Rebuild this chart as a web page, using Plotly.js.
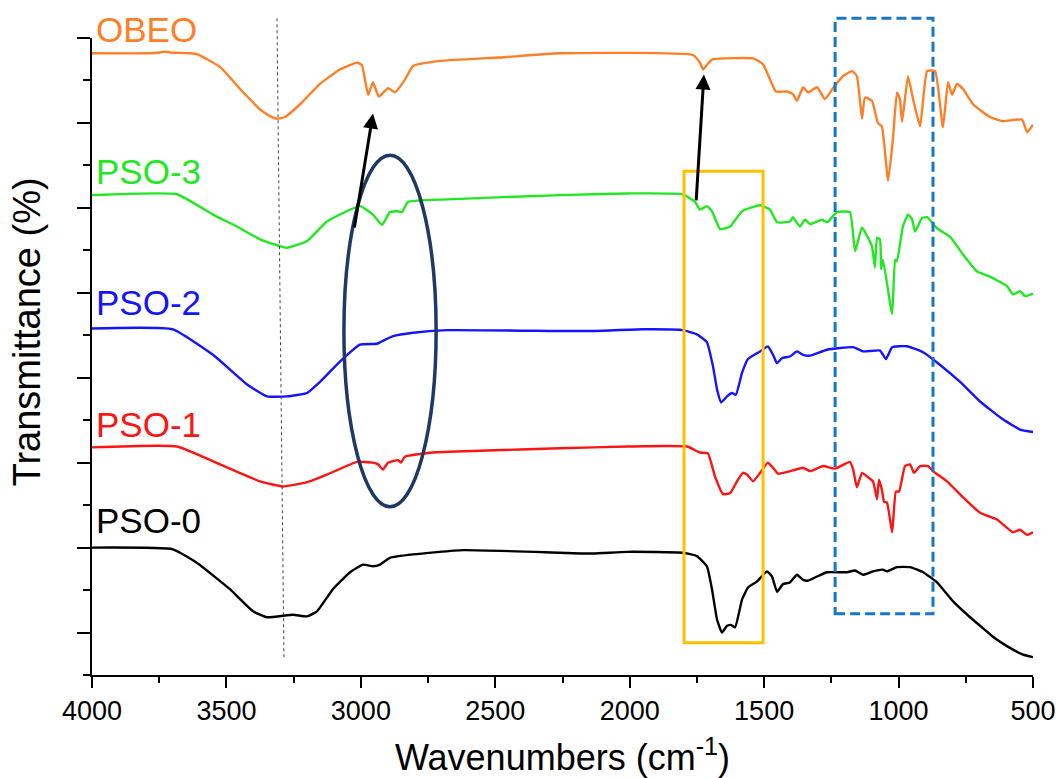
<!DOCTYPE html>
<html>
<head>
<meta charset="utf-8">
<script src="https://cdn.plot.ly/plotly-3.0.1.min.js"></script>
<style>html,body{margin:0;padding:0;background:#fff;}#chart{width:1059px;height:778px;}</style>
</head>
<body>
<div id="chart"></div>
<script>
// Wavenumbers (cm-1) and offset transmittance values (arbitrary %, stacked)
const obeoX = [4000,3784,3747,3728,3710,3636,3609,3524,3449,3375,3338,3312,3282,3226,3152,3078,3014,2996,2973,2955,2933,2899,2873,2836,2806,2706,2482,2259,1765,1739,1727,1709,1690,1541,1504,1478,1456,1415,1393,1378,1355,1337,1303,1274,1244,1207,1173,1155,1136,1125,1099,1077,1062,1039,1021,1006,995,987,965,946,920,894,864,835,816,801,783,760,723,660,612,541,522,500];
const obeoY = [68.2,68.2,68.3,68.4,68.3,68.2,68.1,66.6,64.0,61.6,60.8,60.5,60.7,62.2,64.6,66.3,67.1,66.8,63.3,64.8,63.1,64.1,63.6,65.1,66.7,67.3,67.7,68.2,68.0,67.1,66.3,67.0,67.5,67.6,66.9,65.1,63.7,63.7,63.4,62.6,64.2,63.6,64.2,62.8,64.1,65.5,66.1,65.5,60.5,63.0,62.6,60.0,59.6,53.2,58.1,63.6,62.8,60.1,65.5,62.8,59.6,66.1,66.1,59.5,64.8,63.3,64.6,64.0,62.2,60.7,60.2,60.4,58.9,59.8];

const pso3X = [4000,3684,3550,3461,3375,3275,3200,3126,3003,2955,2921,2892,2862,2847,2825,2680,2259,2010,1802,1757,1739,1713,1694,1664,1627,1582,1515,1478,1452,1404,1393,1367,1348,1329,1285,1266,1229,1181,1162,1136,1114,1099,1088,1080,1069,1065,1058,1024,1013,1006,984,965,950,939,913,894,857,809,760,708,660,597,574,548,530,500];
const pso3Y = [51.5,51.6,49.2,47.8,46.3,45.3,46.1,48.4,50.2,49.2,48.0,49.5,49.6,49.5,50.7,51.0,51.5,51.7,51.6,50.7,49.8,50.2,49.6,47.5,47.8,49.6,50.3,49.8,48.3,48.4,48.9,47.8,48.6,48.1,48.6,48.3,49.5,49.5,44.9,47.7,46.5,45.5,43.0,46.5,46.3,42.8,43.9,37.5,43.9,43.7,47.8,49.2,48.7,47.2,48.8,48.9,47.6,46.6,44.5,42.5,41.9,40.8,39.8,40.2,39.6,39.9];

const pso2X = [4000,3699,3550,3423,3349,3275,3200,3152,3078,3003,2940,2921,2880,2806,2680,2259,2137,1951,1802,1750,1713,1690,1675,1660,1638,1620,1605,1582,1560,1515,1486,1467,1452,1434,1404,1378,1355,1329,1266,1169,1132,1069,1047,1024,969,909,857,771,697,612,548,500];
const pso2Y = [35.8,35.7,32.7,29.2,27.8,27.8,28.2,29.5,31.9,33.9,34.0,34.3,34.9,35.3,35.6,35.5,35.5,35.7,35.6,35.1,34.2,31.3,28.6,27.1,27.8,28.2,28.0,30.6,32.2,33.1,33.7,32.7,31.7,32.3,32.5,33.1,32.7,32.6,33.3,33.6,33.1,33.2,32.2,33.6,33.7,33.0,31.8,29.5,27.2,25.1,23.9,23.6];

const pso1X = [4000,3684,3524,3375,3290,3200,3126,3014,2955,2936,2918,2899,2862,2851,2836,2732,2557,2259,2010,1787,1739,1709,1683,1653,1627,1601,1579,1564,1541,1515,1486,1467,1448,1404,1355,1329,1281,1236,1181,1169,1155,1136,1114,1095,1080,1073,1062,1054,1043,1024,1010,998,976,957,943,920,890,872,820,760,697,634,574,548,522,500];
const pso1Y = [21.8,21.9,19.8,17.8,17.2,17.7,18.6,20.1,20.0,19.8,19.2,20.0,20.3,20.0,20.7,21.2,21.4,21.7,21.9,21.9,21.2,21.1,18.4,16.3,16.4,17.8,18.8,18.6,17.8,18.8,20.0,19.4,18.7,19.0,19.4,19.0,19.6,19.3,20.1,19.2,17.1,18.8,18.3,17.8,15.7,18.0,16.8,15.4,15.3,11.8,16.6,16.6,19.6,19.8,18.8,19.6,19.6,19.0,17.8,15.9,14.1,13.3,11.8,12.1,11.5,11.8];

const pso0X = [4000,3699,3609,3487,3401,3349,3252,3200,3163,3104,3040,2992,2955,2929,2892,2806,2620,2259,2137,2010,1802,1750,1713,1694,1675,1657,1638,1623,1608,1582,1560,1527,1489,1471,1452,1430,1404,1378,1355,1337,1303,1266,1192,1162,1132,1095,1058,1043,1006,957,909,857,798,734,671,649,597,537,500];
const pso0Y = [10.0,9.8,8.2,5.1,2.5,1.8,2.1,1.9,2.5,5.1,7.1,8.0,7.8,8.0,8.8,9.2,9.7,9.4,9.3,9.5,9.4,9.0,7.8,5.1,1.5,0.0,0.8,0.9,0.6,3.9,5.3,6.0,7.2,6.6,4.8,5.7,5.9,6.8,6.2,6.1,6.6,7.1,7.1,7.3,6.8,7.2,7.4,7.2,7.7,7.7,7.1,5.9,3.7,1.8,0.1,-0.5,-1.6,-2.6,-2.9];

const seriesNames = ['OBEO','PSO-3','PSO-2','PSO-1','PSO-0'];
const seriesColors = ['#FF7F27','#22E822','#1414FF','#FF1414','#000000'];
// label vertical positions (paper fraction of plot height)
const labelY = [1.0126, 0.791, 0.584, 0.394, 0.242];

const xs = [obeoX, pso3X, pso2X, pso1X, pso0X];
const ys = [obeoY, pso3Y, pso2Y, pso1Y, pso0Y];

const traces = xs.map((x, i) => ({
  x: x, y: ys[i], type: 'scatter', mode: 'lines', name: seriesNames[i],
  line: {color: seriesColors[i], width: 2.4, shape: 'spline', smoothing: 0.4},
  hoverinfo: 'skip'
}));

const FONT = 'Arial, "Liberation Sans", sans-serif';

const annotations = seriesNames.map((n, i) => ({
  text: n, x: 3992, y: labelY[i], xref: 'x', yref: 'paper',
  xanchor: 'left', yanchor: 'middle', showarrow: false,
  font: {family: FONT, size: 35, color: seriesColors[i]}
}));
annotations.push({x: 2955, y: 61.1, ax: 3025, ay: 47.5, xref: 'x', yref: 'y', axref: 'x', ayref: 'y',
  text: '', showarrow: true, arrowhead: 2, arrowsize: 1, arrowwidth: 3, arrowcolor: '#000', standoff: 0});
annotations.push({x: 1724, y: 65.7, ax: 1753, ay: 50.7, xref: 'x', yref: 'y', axref: 'x', ayref: 'y',
  text: '', showarrow: true, arrowhead: 2, arrowsize: 1, arrowwidth: 3, arrowcolor: '#000', standoff: 0});
// y-axis title placed as rotated annotation (shifted up as in reference)
annotations.push({text: 'Transmittance (%)', textangle: -90, xref: 'paper', yref: 'paper',
  x: -0.069, y: 0.538, xanchor: 'center', yanchor: 'middle', showarrow: false,
  font: {family: FONT, size: 38, color: '#000'}});

const shapes = [
  {type: 'line', xref: 'x', yref: 'paper', x0: 3312, x1: 3286, y0: 1.031, y1: 0.027,
   line: {color: '#444', width: 1, dash: 'dot'}},
  {type: 'rect', xref: 'x', yref: 'paper', x0: 1236, x1: 872, y0: 0.096, y1: 1.031,
   line: {color: '#1577C8', width: 3, dash: '10px,5px'}},
  {type: 'rect', xref: 'x', yref: 'y', x0: 1798, x1: 1504, y0: -1.2, y1: 54.3,
   line: {color: '#FFC000', width: 3}},
  {type: 'circle', xref: 'x', yref: 'y', x0: 3063, x1: 2720, y0: 14.8, y1: 56.2,
   line: {color: '#1F3864', width: 3.5}}
];

const layout = {
  width: 1059, height: 778,
  margin: {l: 92, r: 26, t: 38, b: 103},
  paper_bgcolor: '#fff', plot_bgcolor: '#fff',
  showlegend: false,
  font: {family: FONT, color: '#000'},
  xaxis: {
    range: [4000, 500], tickmode: 'linear', tick0: 500, dtick: 500,
    ticks: 'outside', ticklen: 11, tickwidth: 2, tickcolor: '#000',
    showline: true, linewidth: 2, linecolor: '#000', showgrid: false, zeroline: false,
    tickfont: {family: FONT, size: 27, color: '#000'},
    minor: {tick0: 500, dtick: 250, ticks: 'outside', ticklen: 6, tickwidth: 2, tickcolor: '#000', showgrid: false},
    title: {text: 'Wavenumbers (cm<sup>-1</sup>)', font: {family: FONT, size: 36, color: '#000'}, standoff: 24}
  },
  yaxis: {
    range: [-5, 70], tickmode: 'linear', tick0: 0, dtick: 10,
    ticks: 'outside', ticklen: 13, tickwidth: 2, tickcolor: '#000',
    showline: true, linewidth: 2, linecolor: '#000', showgrid: false, zeroline: false,
    showticklabels: false,
    minor: {tick0: 5, dtick: 10, ticks: 'outside', ticklen: 7, tickwidth: 2, tickcolor: '#000', showgrid: false}
  },
  annotations: annotations,
  shapes: shapes
};

Plotly.newPlot('chart', traces, layout, {displayModeBar: false, staticPlot: true});
</script>
</body>
</html>
